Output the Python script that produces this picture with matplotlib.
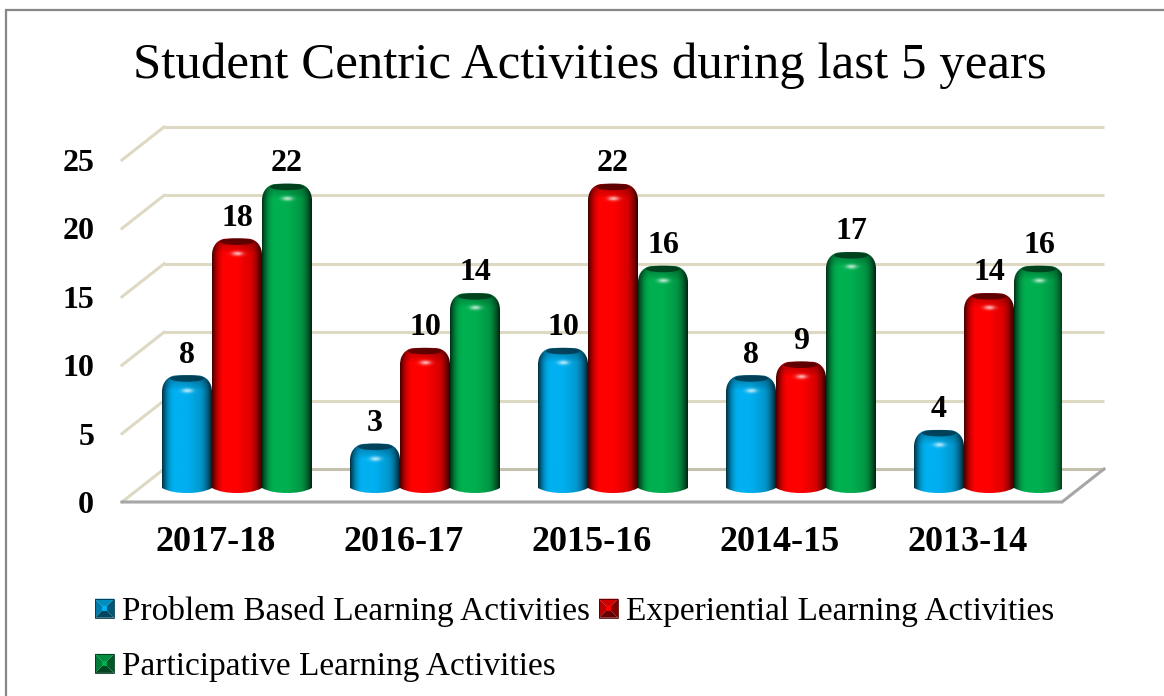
import numpy as np
import matplotlib
matplotlib.use("Agg")
import matplotlib.pyplot as plt
from matplotlib.colors import to_rgb
from matplotlib.legend_handler import HandlerBase
from matplotlib.lines import Line2D
from matplotlib.patches import Ellipse, Patch, PathPatch, Polygon
from matplotlib.path import Path

years = ["2017-18", "2016-17", "2015-16", "2014-15", "2013-14"]
problem_based = [8, 3, 10, 8, 4]
experiential = [18, 10, 22, 9, 14]
participative = [22, 14, 16, 17, 16]

series_names = [
    "Problem Based Learning Activities",
    "Experiential Learning Activities",
    "Participative Learning Activities",
]
series_values = [problem_based, experiential, participative]
series_colors = ["#00B0F0", "#FF0000", "#00B050"]
y_ticks = [0, 5, 10, 15, 20, 25]

W, H = 1164, 696
SERIF = "Liberation Serif"

# front plane of the 3d box, in pixels
px_left, px_right = 122, 1062
px_zero, px_top = 502, 160
px_per_cat = (px_right - px_left) / 5
px_per_unit = (px_zero - px_top) / 25

depth_x = 42 / px_per_cat
depth_y = 33 / px_per_unit
bar_w = 50 / px_per_cat
bar_dx = 21 / px_per_cat  # bars stand in the middle of the floor
bar_dy = 14 / px_per_unit
cap_h = 17 / px_per_unit  # height of the rounded shoulder
foot_h = 5 / px_per_unit  # how far the round base hangs below

fig = plt.figure(figsize=(W / 100, H / 100), dpi=100)
ax = fig.add_axes([px_left / W, 1 - px_zero / H, (px_right - px_left) / W, (px_zero - px_top) / H])
ax.set_facecolor("none")


def shade_image(color, height_px):
    # cylinder shading with a darker shoulder and a lit spot at the top
    rows, cols = max(int(height_px), 4), 60
    u = np.linspace(-1, 1, cols)
    row = np.arange(rows)[:, None]
    edge = 1 - np.clip((np.abs(u) - 0.5) / 0.5, 0, 1) ** 2.0 * 0.72
    edge = edge * (1 - 0.25 * (u > 0) * np.abs(u))
    shade = np.tile(edge, (rows, 1))
    top = np.clip(row / 15.0, 0, 1) ** 0.8
    shade = shade * (0.6 + 0.4 * top)
    base = np.array(to_rgb(color))
    img = shade[:, :, None] * base
    spot = np.exp(-(((u - 0.02) / 0.22) ** 2) - ((row - 15) / 2.2) ** 2)
    img = img + spot[:, :, None] * (1 - img) * 0.7
    return np.clip(img, 0, 1)


def bar_path(x0, x1, y0, y1):
    xc = (x0 + x1) / 2
    hw = (x1 - x0) / 2
    verts = [
        (x0, y0),
        (x0 + hw * 0.3, y0 - foot_h * 0.8), (xc - hw * 0.35, y0 - foot_h), (xc, y0 - foot_h),
        (xc + hw * 0.35, y0 - foot_h), (x1 - hw * 0.3, y0 - foot_h * 0.8), (x1, y0),
        (x1, y1 - cap_h),
        (x1, y1 - cap_h * 0.4), (x1 - hw * 0.25, y1 - cap_h * 0.08), (xc + hw * 0.5, y1 - cap_h * 0.03),
        (xc + hw * 0.2, y1), (xc - hw * 0.2, y1), (xc - hw * 0.5, y1 - cap_h * 0.03),
        (x0 + hw * 0.25, y1 - cap_h * 0.08), (x0, y1 - cap_h * 0.4), (x0, y1 - cap_h),
        (x0, y0),
    ]
    codes = [Path.MOVETO] + [Path.CURVE4] * 6 + [Path.LINETO] + [Path.CURVE4] * 9 + [Path.LINETO]
    return Path(verts, codes)


# back wall gridlines and side wall
for v in y_ticks:
    if v > 0:
        ax.plot([-0.5 + depth_x, 4.5 + depth_x], [v + depth_y, v + depth_y],
                color="#DDD9C3", lw=2.2, clip_on=False, zorder=1, solid_capstyle="butt")
        ax.plot([-0.5, -0.5 + depth_x], [v, v + depth_y],
                color="#DDD9C3", lw=2.2, clip_on=False, zorder=1)

# floor
floor = Polygon([(-0.5, 0), (4.5, 0), (4.5 + depth_x, depth_y), (-0.5 + depth_x, depth_y)],
                closed=True, facecolor="white", edgecolor="none", clip_on=False, zorder=1.5)
ax.add_patch(floor)
ax.plot([-0.5 + depth_x, 4.5 + depth_x], [depth_y, depth_y], color="#C4C1AE", lw=2.2,
        clip_on=False, zorder=1.6, solid_capstyle="butt")
ax.plot([-0.5, -0.5 + depth_x], [0, depth_y], color="#DDD9C3", lw=2.2, clip_on=False, zorder=1.6)
ax.plot([-0.5, 4.5, 4.5 + depth_x], [0, 0, depth_y], color="#A6A6A6", lw=2.2,
        clip_on=False, zorder=1.6, solid_joinstyle="miter")

# bars
for s, (values, color) in enumerate(zip(series_values, series_colors)):
    for i, v in enumerate(values):
        x0 = i + bar_dx + (s - 1.5) * bar_w
        x1 = x0 + bar_w
        y0 = bar_dy
        y1 = v + bar_dy + 3.5 / px_per_unit
        path = bar_path(x0, x1, y0, y1)
        img = shade_image(color, (y1 - y0 + foot_h) * px_per_unit)
        z = 2 + s * 0.1
        im = ax.imshow(img, extent=[x0, x1, y0 - foot_h, y1], aspect="auto", origin="upper",
                       zorder=z, interpolation="bilinear")
        im.set_clip_path(PathPatch(path, transform=ax.transData))
        top_ellipse = Ellipse(((x0 + x1) / 2, y1 - 3.4 / px_per_unit), bar_w * 0.68, 6.5 / px_per_unit,
                              facecolor=tuple(0.32 * c for c in to_rgb(color)), edgecolor="none",
                              alpha=0.85, zorder=z + 0.01)
        ax.add_patch(top_ellipse)
        ax.text((x0 + x1) / 2, y1 + 20 / px_per_unit, str(v), ha="center", va="center",
                fontsize=23, fontweight="bold", family=SERIF, color="black", zorder=5)

ax.set_xlim(-0.5, 4.5)
ax.set_ylim(0, 25)
ax.set_xticks(range(5), years)
ax.set_yticks(y_ticks)
ax.tick_params(axis="both", length=0)
ax.tick_params(axis="x", pad=17)
ax.tick_params(axis="y", pad=20)
for lab in ax.get_yticklabels():
    lab.set_fontsize(23)
    lab.set_fontweight("bold")
    lab.set_family(SERIF)
for lab in ax.get_xticklabels():
    lab.set_fontsize(26)
    lab.set_fontweight("bold")
    lab.set_family(SERIF)
for sp in ax.spines.values():
    sp.set_visible(False)

fig.text(590 / W, 1 - 66 / H, "Student Centric Activities during last 5 years",
         ha="center", va="center", fontsize=36.6, family=SERIF, color="black")


class BevelHandler(HandlerBase):
    # square legend key with a small bevel
    def create_artists(self, legend, orig, xd, yd, width, height, fontsize, trans):
        c = np.array(to_rgb(orig.get_facecolor()))
        s = min(width, height)
        x, y = width - s - xd, -yd + (height - s) / 2
        b = s * 0.38
        sq = [(x, y), (x + s, y), (x + s, y + s), (x, y + s)]
        inner = [(x + b, y + b), (x + s - b, y + b), (x + s - b, y + s - b), (x + b, y + s - b)]
        arts = []
        for k, f in enumerate([0.4, 0.5, 0.8, 0.7]):
            pts = [sq[k], sq[(k + 1) % 4], inner[(k + 1) % 4], inner[k]]
            arts.append(Polygon(pts, closed=True, facecolor=c * f, edgecolor="none", transform=trans))
        arts.append(Polygon(inner, closed=True, facecolor=c, edgecolor="none", transform=trans))
        arts.append(Polygon(sq, closed=True, fill=False, edgecolor=c * 0.3, lw=0.6, transform=trans))
        return arts


handles = [Patch(facecolor=c) for c in series_colors]
order = [0, 2, 1]  # legend fills by column
leg = fig.legend([handles[i] for i in order], [series_names[i] for i in order], ncol=2,
                 loc="upper left", bbox_to_anchor=(95 / W, 1 - 596 / H),
                 frameon=False, handler_map={Patch: BevelHandler()},
                 prop={"family": SERIF, "size": 24}, handlelength=0.57, handleheight=0.57,
                 handletextpad=0.24, columnspacing=0.27, labelspacing=0.74,
                 borderaxespad=0, borderpad=0)

# outer chart frame, only top and left show in the crop
fig.add_artist(Line2D([6 / W, 6 / W, 1], [0, 1 - 10 / H, 1 - 10 / H], transform=fig.transFigure,
                      color="#868686", lw=1.6, solid_joinstyle="miter"))

fig.savefig("out.png", dpi=100)
